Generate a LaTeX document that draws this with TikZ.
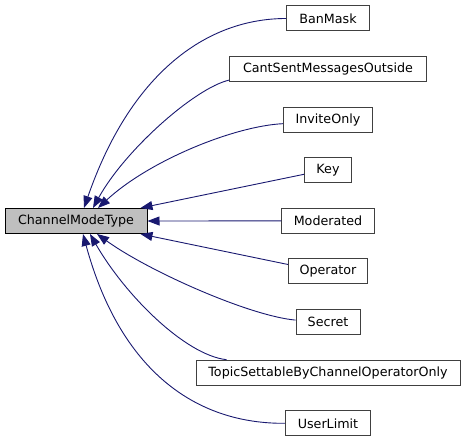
\documentclass[tikz,border=0pt]{standalone}
\usepackage{fontspec}
\setmainfont{DejaVu Sans}
\usetikzlibrary{arrows.meta,positioning}
\definecolor{edgeblue}{HTML}{191970}
\definecolor{basegray}{HTML}{BFBFBF}
\definecolor{boxgray}{HTML}{404040}

\begin{document}
\begin{tikzpicture}[x=1pt,y=-1pt,>={Triangle[length=12pt,width=9pt]}]
        \tikzset{cls/.style= {draw=boxgray, line width=1pt, rectangle, minimum height=25pt, inner xsep=4pt, inner ysep=2pt, font=\fontsize{12.7}{15}\selectfont},
        base/.style= {cls, draw=black, fill=basegray},
        inh/.style={draw=edgeblue, line width=0.9pt, ->}
        }
        \useasboundingbox (0,0) rectangle (467,443);
        \node [base, minimum width=142pt] (mode) at (76,221) {ChannelModeType};
        \node [cls, minimum width=82.6pt] (banmask) at (328,18.5) {BanMask};
        \node [cls, minimum width=196.7pt, below=24.6pt of banmask] (cantsent) {CantSentMessagesOutside};
        \node [cls, minimum width=89.4pt, below=24.6pt of cantsent] (invite) {InviteOnly};
        \node [cls, minimum width=47pt, below=24.6pt of invite] (key) {Key};
        \node [cls, minimum width=92.3pt, below=24.6pt of key] (moderated) {Moderated};
        \node [cls, minimum width=79pt, below=24.6pt of moderated] (operator) {Operator};
        \node [cls, minimum width=64pt, below=24.6pt of operator] (secret) {Secret};
        \node [cls, minimum width=264pt, below=24.6pt of secret] (topic) {TopicSettableByChannelOperatorOnly};
        \node [cls, minimum width=85.4pt, below=24.6pt of topic] (userlimit) {UserLimit};

%% paths
        \draw[inh] (moderated.west) -- (mode.east);
        \draw[inh] ([yshift=-4pt]key.west) -- ([xshift=-7pt]mode.north east);
        \draw[inh] ([yshift=7pt]operator.west) -- ([xshift=-7pt]mode.south east);
        \draw[inh] (banmask.west) .. controls (205,18.5) and (130,75) .. ([xshift=8pt]mode.north);
        \draw[inh] ([yshift=2pt]cantsent.south west) .. controls (195,88) and (125,150) .. ([xshift=17pt]mode.north);
        \draw[inh] ([yshift=-4pt]invite.west) .. controls (235,126) and (150,160) .. ([xshift=22pt]mode.north);
        \draw[inh] ([yshift=2pt]secret.west) .. controls (250,316) and (150,272) .. ([xshift=21pt]mode.south);
        \draw[inh] ([xshift=31pt]topic.north west) .. controls (185,355) and (125,295) .. ([xshift=14pt]mode.south);
        \draw[inh] (userlimit.west) .. controls (195,424) and (120,370) .. ([xshift=7pt]mode.south);
\end{tikzpicture}
\end{document}
